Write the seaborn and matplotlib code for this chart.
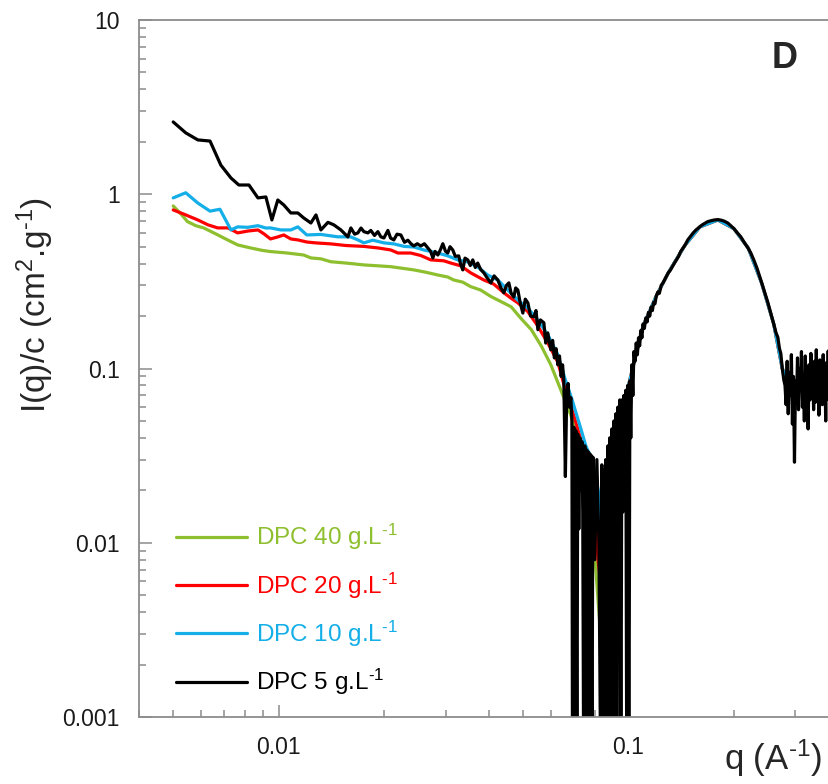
import matplotlib
matplotlib.use("Agg")
import matplotlib.pyplot as plt
import matplotlib.ticker as mticker
import seaborn as sns

# ---- data: q (A^-1) and I(q)/c (cm2.g-1) ----
labels = ["DPC 40 g.L$^{\\text{-}1}$", "DPC 20 g.L$^{\\text{-}1}$",
          "DPC 10 g.L$^{\\text{-}1}$", "DPC 5 g.L$^{\\text{-}1}$"]
colors = ["#8dbf2e", "#ff0000", "#14aee8", "#000000"]

q_green = [0.00500, 0.00526, 0.00549, 0.00580, 0.00611, 0.00662, 0.00706, 0.00764, 0.00831, 0.00900,
           0.00948, 0.01059, 0.01180, 0.01237, 0.01321, 0.01410, 0.01556, 0.01753, 0.01940, 0.02092,
           0.02236, 0.02435, 0.02633, 0.02852, 0.03044, 0.03167, 0.03360, 0.03540, 0.03780, 0.04042,
           0.04321, 0.04619, 0.04937, 0.05276, 0.05640, 0.05998, 0.06404, 0.06842, 0.07390, 0.07800,
           0.08340, 0.08510]
i_green = [0.857, 0.771, 0.697, 0.660, 0.641, 0.592, 0.554, 0.512, 0.492, 0.476,
           0.469, 0.460, 0.448, 0.431, 0.426, 0.410, 0.403, 0.393, 0.388, 0.384,
           0.377, 0.368, 0.357, 0.344, 0.335, 0.322, 0.313, 0.295, 0.282, 0.259,
           0.242, 0.226, 0.193, 0.167, 0.134, 0.105, 0.0754, 0.054, 0.031, 0.0176,
           0.0028, 0.0003]

q_red = [0.00500, 0.00543, 0.00588, 0.00629, 0.00670, 0.00717, 0.00764, 0.00817, 0.00873, 0.00909,
         0.00948, 0.00995, 0.01035, 0.01084, 0.01135, 0.01204, 0.01275, 0.01410, 0.01556, 0.01753,
         0.01922, 0.02092, 0.02193, 0.02385, 0.02550, 0.02723, 0.02966, 0.03104, 0.03320, 0.03540,
         0.03860, 0.04121, 0.04403, 0.04619, 0.04828, 0.05157, 0.05508, 0.05880, 0.06280, 0.06600,
         0.06900, 0.07310, 0.07670, 0.07960, 0.08180, 0.08400, 0.08620]
i_red = [0.813, 0.761, 0.712, 0.667, 0.641, 0.641, 0.600, 0.615, 0.624, 0.592,
         0.554, 0.569, 0.584, 0.554, 0.547, 0.532, 0.526, 0.519, 0.508, 0.502,
         0.492, 0.479, 0.460, 0.460, 0.445, 0.420, 0.415, 0.403, 0.388, 0.354,
         0.322, 0.305, 0.272, 0.253, 0.238, 0.212, 0.175, 0.140, 0.109, 0.0754,
         0.058, 0.039, 0.030, 0.0176, 0.0080, 0.0049, 0.0003]

q_blue = [0.00500, 0.00543, 0.00588, 0.00637, 0.00680, 0.00731, 0.00764, 0.00817, 0.00873, 0.00920,
          0.00948, 0.01015, 0.01084, 0.01135, 0.01204, 0.01321, 0.01473, 0.01609, 0.01685, 0.01753,
          0.01860, 0.02000, 0.02135, 0.02285, 0.02435, 0.02600, 0.02852, 0.03044, 0.03250, 0.03473,
          0.03707, 0.03958, 0.04232, 0.04520, 0.04828, 0.05157, 0.05508, 0.05880, 0.06280, 0.06600,
          0.06900, 0.07310, 0.07550, 0.07910, 0.08290, 0.08350]
i_blue = [0.953, 1.02, 0.89, 0.80, 0.82, 0.624, 0.65, 0.646, 0.66, 0.64,
          0.641, 0.624, 0.624, 0.65, 0.584, 0.588, 0.570, 0.569, 0.547, 0.526,
          0.545, 0.526, 0.519, 0.502, 0.498, 0.479, 0.460, 0.443, 0.420, 0.409,
          0.383, 0.344, 0.322, 0.282, 0.247, 0.222, 0.190, 0.156, 0.120, 0.086,
          0.066, 0.045, 0.036, 0.029, 0.0176, 0.0003]

# high-q part shared by the coloured curves (hidden under the 5 g/L curve)
q_tail = [0.0950, 0.1000, 0.1100, 0.1200, 0.1300, 0.1450, 0.1600, 0.1800, 0.2000, 0.2200,
          0.2400, 0.2600, 0.2750, 0.2900, 0.3200, 0.3700]
i_tail = [0.045, 0.080, 0.175, 0.260, 0.355, 0.510, 0.650, 0.712, 0.635, 0.490,
          0.310, 0.180, 0.100, 0.080, 0.082, 0.080]

# 5 g/L curve, in four pieces
q_black_low = [0.00500, 0.00543, 0.00588, 0.00637, 0.00684, 0.00731, 0.00770, 0.00823, 0.00873, 0.00920,
               0.00957, 0.00995, 0.01035, 0.01084, 0.01135, 0.01180, 0.01237, 0.01279, 0.01321, 0.01384,
               0.01439, 0.01507, 0.01578, 0.01609, 0.01650, 0.01685, 0.01720, 0.01753, 0.01800, 0.01835,
               0.01880, 0.01922, 0.01960, 0.02000, 0.02053, 0.02090, 0.02135, 0.02180, 0.02236, 0.02290,
               0.02341, 0.02390, 0.02435, 0.02490, 0.02550, 0.02610, 0.02670, 0.02720, 0.02760, 0.02800,
               0.02852, 0.02900, 0.02947, 0.03000, 0.03044, 0.03090, 0.03146, 0.03200, 0.03272, 0.03310,
               0.03360, 0.03410, 0.03473, 0.03530, 0.03589, 0.03650, 0.03707, 0.03780, 0.03860, 0.03950,
               0.04042, 0.04130, 0.04232, 0.04320, 0.04403, 0.04480, 0.04550, 0.04620, 0.04702, 0.04760,
               0.04828, 0.04900, 0.04990, 0.05070, 0.05157, 0.05250, 0.05364, 0.05440, 0.05508, 0.05600,
               0.05729, 0.05800, 0.05880, 0.05998, 0.06070, 0.06140, 0.06210, 0.06280, 0.06350, 0.06420,
               0.06480, 0.06534, 0.06600, 0.06660, 0.06720, 0.06780, 0.06842]
i_black_low = [2.60, 2.25, 2.05, 2.02, 1.47, 1.24, 1.13, 1.13, 0.953, 0.965,
               0.712, 0.927, 0.868, 0.781, 0.781, 0.731, 0.684, 0.761, 0.624, 0.690,
               0.667, 0.624, 0.569, 0.641, 0.590, 0.600, 0.640, 0.610, 0.600, 0.620,
               0.580, 0.610, 0.570, 0.561, 0.620, 0.560, 0.547, 0.590, 0.584, 0.530,
               0.545, 0.520, 0.505, 0.520, 0.505, 0.520, 0.492, 0.470, 0.431, 0.470,
               0.448, 0.480, 0.520, 0.470, 0.460, 0.500, 0.479, 0.440, 0.443, 0.400,
               0.368, 0.430, 0.420, 0.390, 0.420, 0.380, 0.403, 0.370, 0.354, 0.330,
               0.310, 0.340, 0.322, 0.290, 0.272, 0.300, 0.310, 0.270, 0.257, 0.290,
               0.282, 0.240, 0.208, 0.250, 0.238, 0.200, 0.198, 0.215, 0.167, 0.190,
               0.183, 0.140, 0.160, 0.128, 0.145, 0.115, 0.130, 0.105, 0.118, 0.090,
               0.105, 0.085, 0.024, 0.072, 0.082, 0.060, 0.068]

q_black_dip = [0.0689, 0.0692, 0.0698, 0.0702, 0.0707, 0.0712, 0.0716, 0.0721, 0.0726, 0.0731,
               0.0736, 0.0740, 0.0745, 0.0750, 0.0755, 0.0760, 0.0765, 0.0770, 0.0775, 0.0780,
               0.0786, 0.0791, 0.0801, 0.0812, 0.0823, 0.0834, 0.0839, 0.0845, 0.0850, 0.0856,
               0.0861, 0.0867, 0.0873, 0.0879, 0.0884, 0.0890, 0.0896, 0.0902, 0.0908, 0.0914,
               0.0920, 0.0926, 0.0932, 0.0938, 0.0944, 0.0951, 0.0957, 0.0963, 0.0970, 0.0976,
               0.0982, 0.0989, 0.0995, 0.1002, 0.1009, 0.1015, 0.1022, 0.1029, 0.1036]
i_black_dip = [0.050, 0.0003, 0.046, 0.0003, 0.044, 0.0003, 0.042, 0.012, 0.040, 0.020,
               0.038, 0.015, 0.0003, 0.036, 0.0003, 0.034, 0.0003, 0.033, 0.0003, 0.032,
               0.0003, 0.031, 0.008, 0.030, 0.010, 0.0003, 0.028, 0.0003, 0.026, 0.0003,
               0.030, 0.0003, 0.036, 0.0003, 0.040, 0.0003, 0.045, 0.0003, 0.050, 0.0003,
               0.055, 0.0003, 0.060, 0.012, 0.066, 0.0003, 0.066, 0.015, 0.070, 0.020,
               0.075, 0.0003, 0.080, 0.0003, 0.085, 0.040, 0.105, 0.070, 0.125]

q_black_peak = [0.1044, 0.1052, 0.1060, 0.1068, 0.1076, 0.1084, 0.1092, 0.1100, 0.1110, 0.1120,
                0.1130, 0.1140, 0.1150, 0.1160, 0.1170, 0.1180, 0.1190, 0.1200, 0.1213, 0.1225,
                0.1240, 0.1255, 0.1270, 0.1285, 0.1300, 0.1315, 0.1330, 0.1350, 0.1370, 0.1390,
                0.1410, 0.1430, 0.1450, 0.1477, 0.1500, 0.1530, 0.1560, 0.1590, 0.1620, 0.1650,
                0.1680, 0.1720, 0.1760, 0.1800, 0.1840, 0.1880, 0.1921, 0.1960, 0.2000, 0.2040,
                0.2094, 0.2140, 0.2190, 0.2236, 0.2280, 0.2330, 0.2388, 0.2440, 0.2500, 0.2550,
                0.2600, 0.2640, 0.2671, 0.2700, 0.2724, 0.2750, 0.2778]
i_black_peak = [0.110, 0.140, 0.120, 0.150, 0.135, 0.165, 0.150, 0.180, 0.170, 0.195,
                0.185, 0.210, 0.200, 0.225, 0.215, 0.240, 0.235, 0.260, 0.275, 0.270,
                0.300, 0.310, 0.325, 0.340, 0.355, 0.365, 0.380, 0.400, 0.420, 0.440,
                0.470, 0.490, 0.510, 0.547, 0.570, 0.600, 0.625, 0.645, 0.665, 0.680,
                0.695, 0.705, 0.712, 0.715, 0.710, 0.700, 0.684, 0.660, 0.635, 0.605,
                0.569, 0.530, 0.495, 0.460, 0.420, 0.375, 0.322, 0.280, 0.240, 0.208,
                0.180, 0.160, 0.151, 0.130, 0.122, 0.100, 0.086]

q_black_high = [0.280, 0.282, 0.284, 0.286, 0.288, 0.290, 0.292, 0.294, 0.296, 0.298,
                0.300, 0.302, 0.304, 0.306, 0.308, 0.310, 0.312, 0.314, 0.316, 0.318,
                0.320, 0.322, 0.324, 0.326, 0.328, 0.330, 0.332, 0.334, 0.336, 0.338,
                0.340, 0.342, 0.344, 0.346, 0.348, 0.350, 0.352, 0.354, 0.356, 0.358,
                0.360, 0.362, 0.364, 0.366, 0.368, 0.370, 0.372, 0.374, 0.376, 0.378,
                0.380]
i_black_high = [0.080, 0.062, 0.110, 0.055, 0.095, 0.070, 0.120, 0.048, 0.090, 0.029,
                0.085, 0.065, 0.115, 0.058, 0.100, 0.075, 0.125, 0.060, 0.092, 0.050,
                0.118, 0.070, 0.088, 0.045, 0.105, 0.066, 0.122, 0.072, 0.096, 0.058,
                0.110, 0.064, 0.128, 0.070, 0.090, 0.054, 0.112, 0.075, 0.100, 0.062,
                0.120, 0.068, 0.094, 0.050, 0.108, 0.072, 0.126, 0.066, 0.092, 0.058,
                0.104]

q_black = q_black_low + q_black_dip + q_black_peak + q_black_high
i_black = i_black_low + i_black_dip + i_black_peak + i_black_high

series = [
    (q_green + q_tail, i_green + i_tail),
    (q_red + q_tail, i_red + i_tail),
    (q_blue + q_tail, i_blue + i_tail),
    (q_black, i_black),
]

# ---- figure ----
sns.set_style("ticks")
plt.rcParams["font.family"] = ["Liberation Sans", "DejaVu Sans"]
plt.rcParams["mathtext.fontset"] = "custom"
plt.rcParams["mathtext.rm"] = "Liberation Sans"
plt.rcParams["mathtext.it"] = "Liberation Sans:italic"
plt.rcParams["mathtext.default"] = "regular"

W, H = 829, 784
fig = plt.figure(figsize=(W / 100, H / 100), dpi=100)
ax = fig.add_axes([139.3 / W, 67 / H, 689.7 / W, 697 / H])
ax.set(xscale="log", yscale="log")

for (q, i), label, color in zip(series, labels, colors):
    sns.lineplot(x=q, y=i, color=color, lw=2.3, sort=False, estimator=None,
                 label=label, ax=ax)

ax.set_xlim(0.004, 0.374)
ax.set_ylim(0.001, 10)

fmt = mticker.FuncFormatter(lambda v, _: f"{v:g}")
ax.xaxis.set_major_formatter(fmt)
ax.yaxis.set_major_formatter(fmt)
ax.xaxis.set_minor_formatter(mticker.NullFormatter())
ax.yaxis.set_minor_formatter(mticker.NullFormatter())
ax.yaxis.set_minor_locator(mticker.LogLocator(base=10, subs=range(2, 10), numticks=20))
ax.xaxis.set_minor_locator(mticker.LogLocator(base=10, subs=range(2, 10), numticks=20))

ax.tick_params(which="both", direction="in", color="#8c8c8c", width=1.1,
               labelsize=16.5, labelcolor="#1a1a1a", pad=14)
ax.tick_params(which="major", length=9)
ax.tick_params(which="minor", length=5)

for side in ["top", "left", "bottom"]:
    ax.spines[side].set_color("#8c8c8c")
    ax.spines[side].set_linewidth(1.3)
ax.spines["right"].set_visible(False)

ax.set_xlabel("q (A$^{\\text{-}1}$)", fontsize=25, ha="right", va="top")
ax.xaxis.set_label_coords((822 - 139.3) / 689.7, -0.030)
ax.set_ylabel("I(q)/c (cm$^{2}$.g$^{\\text{-}1}$)", fontsize=24)
ax.yaxis.set_label_coords(-0.121, 0.591)

ax.text(0.935, 0.945, "D", transform=ax.transAxes, fontsize=26,
        fontweight="bold", ha="center", va="center")

ax.legend(loc="upper left", bbox_to_anchor=(176 / W, (H - 522) / H),
          bbox_transform=fig.transFigure, frameon=False, fontsize=17.5,
          handlelength=2.92, handletextpad=0.37, labelspacing=0.75,
          borderpad=0, borderaxespad=0, labelcolor="linecolor")

fig.savefig("out.png", dpi=100)
